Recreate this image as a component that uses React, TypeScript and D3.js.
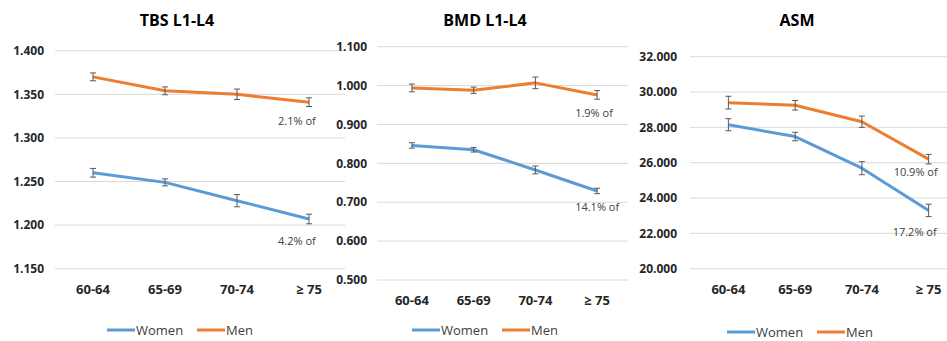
import React from "react";
import * as d3 from "d3";

const categories = ["60-64", "65-69", "70-74", "≥ 75"];
const seriesNames = ["Women", "Men"];
const seriesColors = ["#5B9BD5", "#ED7D31"];

const panelTitles = ["TBS L1-L4", "BMD L1-L4", "ASM"];

const tbsWomen = [1.260, 1.249, 1.228, 1.207];
const tbsWomenErr = [0.005, 0.004, 0.007, 0.0055];
const tbsMen = [1.370, 1.354, 1.350, 1.341];
const tbsMenErr = [0.0045, 0.0045, 0.006, 0.005];
const tbsTicks = [1.15, 1.2, 1.25, 1.3, 1.35, 1.4];
const tbsNotes = ["4.2% of", "2.1% of"];

const bmdWomen = [0.846, 0.835, 0.783, 0.729];
const bmdWomenErr = [0.007, 0.006, 0.01, 0.007];
const bmdMen = [0.994, 0.988, 1.007, 0.976];
const bmdMenErr = [0.01, 0.008, 0.015, 0.011];
const bmdTicks = [0.5, 0.6, 0.7, 0.8, 0.9, 1.0, 1.1];
const bmdNotes = ["14.1% of", "1.9% of"];

const asmWomen = [28150, 27480, 25690, 23300];
const asmWomenErr = [340, 240, 370, 350];
const asmMen = [29400, 29250, 28320, 26200];
const asmMenErr = [360, 270, 320, 270];
const asmTicks = [20000, 22000, 24000, 26000, 28000, 30000, 32000];
const asmNotes = ["17.2% of", "10.9% of"];

const FONT = "'Open Sans', 'Noto Sans', sans-serif";

type Layout = {
  x0: number; x1: number; yTop: number; yBot: number;
  gridX0: number; gridX1: number; tickX: number; labelY: number;
  titleX: number; legendY: number; legendX: number;
  noteDx: number[]; noteDy: number[];
};

const layouts: Layout[] = [
  { x0: 57, x1: 345, yTop: 50.7, yBot: 268.7, gridX0: 55, gridX1: 345, tickX: 44, labelY: 289, titleX: 177, legendY: 330, legendX: 107, noteDx: [-31, -31], noteDy: [22, 19] },
  { x0: 381, x1: 628, yTop: 46.7, yBot: 280, gridX0: 377, gridX1: 628, tickX: 367, labelY: 300, titleX: 485, legendY: 330, legendX: 412, noteDx: [-22, -22], noteDy: [16, 18] },
  { x0: 695, x1: 962, yTop: 56.7, yBot: 268.7, gridX0: 690, gridX1: 947, tickX: 677, labelY: 289, titleX: 797, legendY: 332, legendX: 727, noteDx: [-36, -35], noteDy: [22, 13] },
];

const panels = [
  { values: [tbsWomen, tbsMen], errs: [tbsWomenErr, tbsMenErr], ticks: tbsTicks, notes: tbsNotes, fmt: d3.format(".3f") },
  { values: [bmdWomen, bmdMen], errs: [bmdWomenErr, bmdMenErr], ticks: bmdTicks, notes: bmdNotes, fmt: d3.format(".3f") },
  { values: [asmWomen, asmMen], errs: [asmWomenErr, asmMenErr], ticks: asmTicks, notes: asmNotes, fmt: (v: number) => d3.format(".3f")(v / 1000) },
];

function Panel({ idx }: { idx: number }) {
  const L = layouts[idx];
  const P = panels[idx];
  const x = d3.scaleBand<string>().domain(categories).range([L.x0, L.x1]);
  const ticks = P.ticks;
  const y = d3.scaleLinear().domain([ticks[0], ticks[ticks.length - 1]]).range([L.yBot, L.yTop]);
  const cx = (c: string) => (x(c) as number) + x.bandwidth() / 2;
  const line = d3.line<number>().x((_, i) => cx(categories[i])).y((d) => y(d));
  const lastX = cx(categories[categories.length - 1]);
  return (
    <g>
      <text x={L.titleX} y={26} textAnchor="middle" fontFamily={FONT} fontWeight={700} fontSize={16} fill="#000">
        {panelTitles[idx]}
      </text>
      {ticks.map((t) => (
        <g key={t}>
          <line x1={L.gridX0} x2={L.gridX1} y1={y(t)} y2={y(t)} stroke="#d9d9d9" strokeWidth={1} />
          <text x={L.tickX} y={y(t)} dy="0.35em" textAnchor="end" fontFamily={FONT} fontWeight={700} fontSize={12} fill="#262626">
            {P.fmt(t)}
          </text>
        </g>
      ))}
      {categories.map((c) => (
        <text key={c} x={cx(c)} y={L.labelY} dy="0.35em" textAnchor="middle" fontFamily={FONT} fontWeight={700} fontSize={13} fill="#262626">
          {c}
        </text>
      ))}
      {P.values.map((vals, s) => (
        <path key={"l" + s} d={line(vals) || ""} fill="none" stroke={seriesColors[s]} strokeWidth={3} strokeLinejoin="round" />
      ))}
      {P.values.map((vals, s) =>
        vals.map((v, i) => {
          const xx = cx(categories[i]);
          const e = P.errs[s][i];
          const ya = y(v + e);
          const yb = y(v - e);
          return (
            <g key={"e" + s + "-" + i} stroke="#595959" strokeWidth={1}>
              <line x1={xx} x2={xx} y1={ya} y2={yb} />
              <line x1={xx - 3} x2={xx + 3} y1={ya} y2={ya} />
              <line x1={xx - 3} x2={xx + 3} y1={yb} y2={yb} />
            </g>
          );
        })
      )}
      {P.values.map((vals, s) => (
        <text key={"n" + s} x={lastX + L.noteDx[s]} y={y(vals[vals.length - 1]) + L.noteDy[s]} dy="0.35em" fontFamily={FONT} fontSize={11} fill="#404040">
          {P.notes[s]}
        </text>
      ))}
      {seriesNames.map((n, s) => {
        const lx = L.legendX + s * 90;
        return (
          <g key={"lg" + n}>
            <line x1={lx} x2={lx + 28} y1={L.legendY} y2={L.legendY} stroke={seriesColors[s]} strokeWidth={3} />
            <text x={lx + 29} y={L.legendY} dy="0.35em" fontFamily={FONT} fontSize={13} fill="#404040">
              {n}
            </text>
          </g>
        );
      })}
    </g>
  );
}

export default function App() {
  return (
    <svg width={947} height={341} style={{ position: "absolute", left: 0, top: 0, background: "#fff" }}>
      <rect x={0} y={0} width={947} height={341} fill="#fff" />
      {[0, 1, 2].map((i) => (
        <Panel key={i} idx={i} />
      ))}
    </svg>
  );
}
